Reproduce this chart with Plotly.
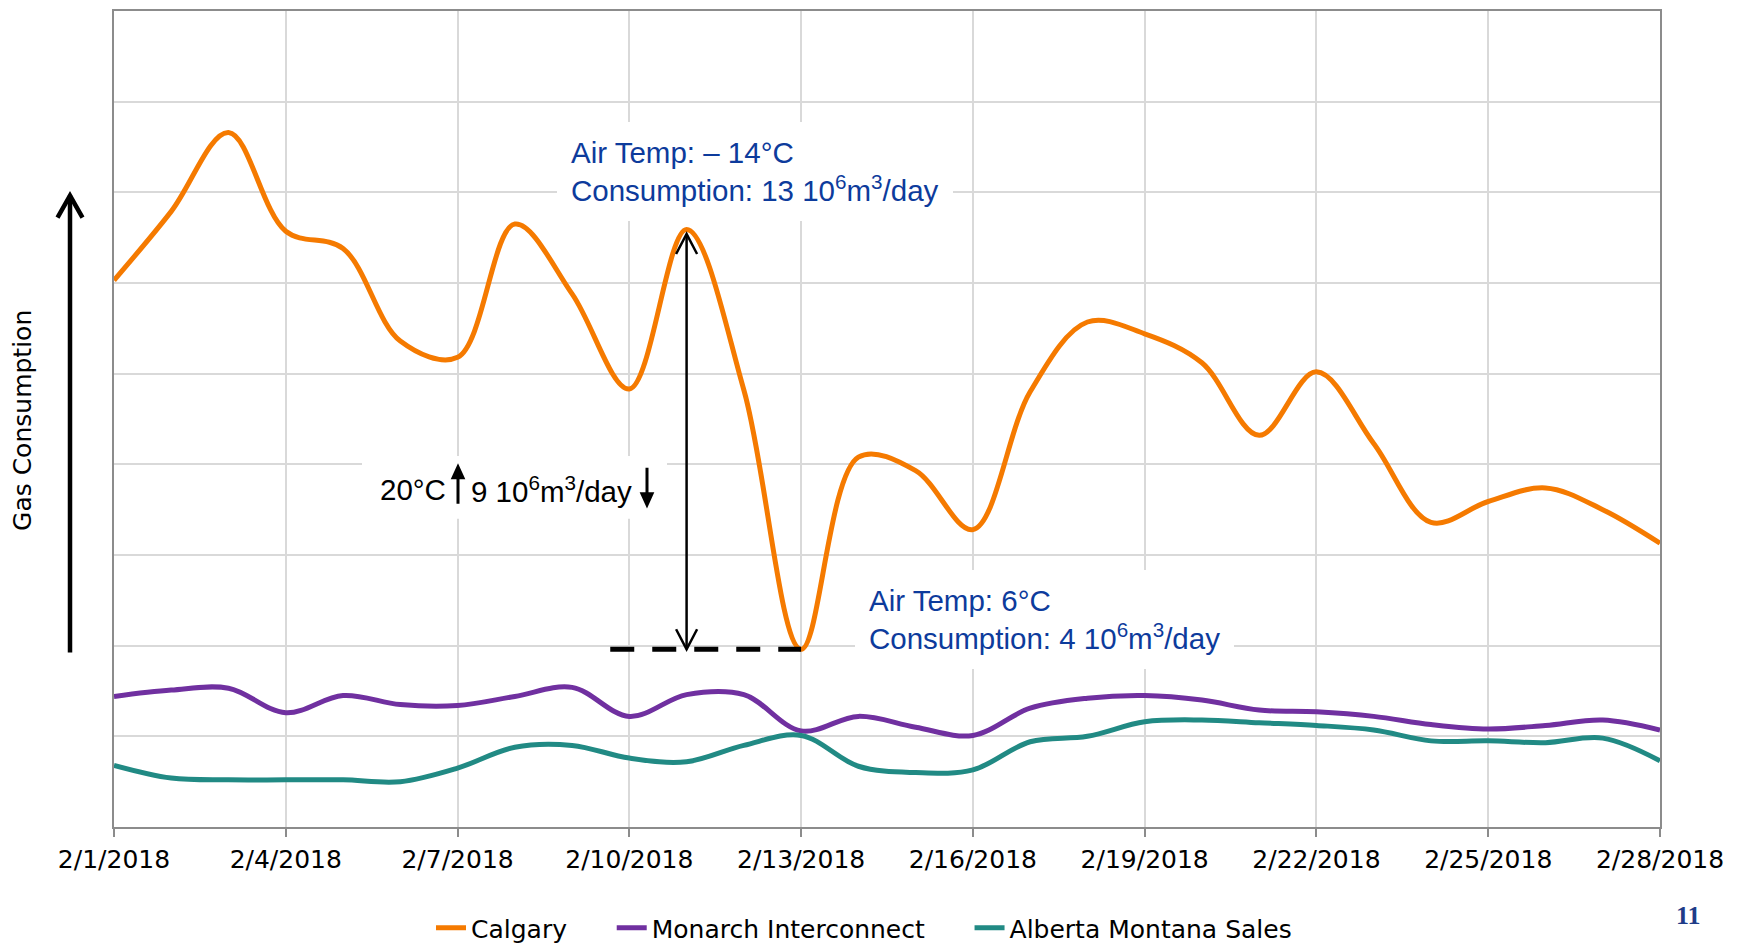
import plotly.graph_objects as go
import pandas as pd

# ---------------- data ----------------
dates = pd.date_range("2018-02-01", "2018-02-28", freq="D")
calgary = [6.03, 6.79, 7.66, 6.57, 6.38, 5.36, 5.18, 6.65, 5.88, 4.83,
           6.59, 4.82, 1.96, 4.08, 3.93, 3.28, 4.80, 5.57, 5.44, 5.12,
           4.32, 5.02, 4.23, 3.36, 3.59, 3.74, 3.50, 3.13]
monarch = [1.44, 1.51, 1.53, 1.26, 1.45, 1.35, 1.34, 1.44, 1.54, 1.22,
           1.46, 1.46, 1.06, 1.22, 1.10, 1.01, 1.31, 1.42, 1.45, 1.40,
           1.29, 1.27, 1.22, 1.13, 1.08, 1.12, 1.18, 1.07]
alberta = [0.68, 0.54, 0.52, 0.52, 0.52, 0.50, 0.65, 0.88, 0.90, 0.76,
           0.72, 0.90, 1.01, 0.67, 0.60, 0.63, 0.94, 1.00, 1.16, 1.18,
           1.15, 1.12, 1.07, 0.95, 0.95, 0.93, 0.98, 0.73]
series_names = ["Calgary", "Monarch Interconnect", "Alberta Montana Sales"]
series_colors = ["#F57A00", "#7030A0", "#218A84"]

ann_high = "Air Temp: \u2013 14\u00b0C<br>Consumption: 13 10<sup>6</sup>m<sup>3</sup>/day"
ann_low = "Air Temp: 6\u00b0C<br>Consumption: 4 10<sup>6</sup>m<sup>3</sup>/day"
ann_diff_temp = "20\u00b0C"
ann_diff_cons = "9 10<sup>6</sup>m<sup>3</sup>/day"
y_title = "Gas Consumption"
page_no = "11"

# ---------------- layout helpers ----------------
W, H = 1741, 943
L, R, T, B = 114, 1660, 9, 827


def px(xp):
    return (xp - L) / (R - L)


def py(yp):
    return (B - yp) / (B - T)


fig = go.Figure()
nbsp = "\u00a0" * 5
for k, (name, vals, col) in enumerate(zip(series_names, [calgary, monarch, alberta], series_colors)):
    label = name + (nbsp if k < len(series_names) - 1 else "")
    fig.add_trace(go.Scatter(x=dates, y=vals, name=label, mode="lines",
                             line=dict(color=col, width=5, shape="spline", smoothing=1.0)))

# peak / trough references from data
i_min = calgary.index(min(calgary))
i_peak = 10
d_min = dates[i_min]
d_peak = dates[i_peak]
y_min = calgary[i_min]
y_peak = calgary[i_peak]

shapes = []
# white box behind the difference label
shapes.append(dict(type="rect", xref="paper", yref="paper", x0=px(362), x1=px(667),
                   y0=py(518), y1=py(455), fillcolor="white", line=dict(width=0), layer="above"))
# dashed baseline
shapes.append(dict(type="line", xref="x", yref="y",
                   x0=d_min - pd.Timedelta(hours=80), x1=d_min, y0=y_min, y1=y_min,
                   line=dict(color="black", width=5, dash="24px,18px"), layer="above"))
# vertical double arrow
shapes.append(dict(type="line", xref="x", yref="y", x0=d_peak, x1=d_peak,
                   y0=y_min, y1=y_peak - 0.05, line=dict(color="black", width=2.5)))
shapes.append(dict(type="path", xref="x", yref="y", xsizemode="pixel", ysizemode="pixel",
                   xanchor=d_peak, yanchor=y_peak - 0.05,
                   path="M -10.5,-20 L 0,0 L 10.5,-20", line=dict(color="black", width=2.5)))
shapes.append(dict(type="path", xref="x", yref="y", xsizemode="pixel", ysizemode="pixel",
                   xanchor=d_peak, yanchor=y_min,
                   path="M -10.5,20 L 0,0 L 10.5,20", line=dict(color="black", width=2.5)))
# big left arrow
ax_x = px(70)
shapes.append(dict(type="line", xref="paper", yref="paper", x0=ax_x, x1=ax_x,
                   y0=py(652), y1=py(194), line=dict(color="black", width=4.5)))
shapes.append(dict(type="path", xref="paper", yref="paper", xsizemode="pixel", ysizemode="pixel",
                   xanchor=ax_x, yanchor=py(194),
                   path="M -12.5,-22 L 0,0 L 12.5,-22", line=dict(color="black", width=4.5)))
# small up / down arrows inside the difference label
shapes.append(dict(type="path", xref="paper", yref="paper", xsizemode="pixel", ysizemode="pixel",
                   xanchor=px(458), yanchor=py(485), layer="above",
                   path="M 0,-18 L 0,9 M -5,8 L 0,19 L 5,8 Z", fillcolor="black",
                   line=dict(color="black", width=3)))
shapes.append(dict(type="path", xref="paper", yref="paper", xsizemode="pixel", ysizemode="pixel",
                   xanchor=px(647), yanchor=py(485), layer="above",
                   path="M 0,18 L 0,-9 M -5,-8 L 0,-19 L 5,-8 Z", fillcolor="black",
                   line=dict(color="black", width=3)))

blue = "#0D3B9C"
afont = "Liberation Sans, Arial, sans-serif"
annotations = [
    dict(text=ann_high, xref="paper", yref="paper", x=px(571 - 14), y=py(170),
         xanchor="left", yanchor="middle", align="left", showarrow=False,
         bgcolor="white", borderpad=14, borderwidth=0,
         font=dict(family=afont, size=29.5, color=blue)),
    dict(text=ann_low, xref="paper", yref="paper", x=px(869 - 14), y=py(619),
         xanchor="left", yanchor="middle", align="left", showarrow=False,
         bgcolor="white", borderpad=14, borderwidth=0,
         font=dict(family=afont, size=29.5, color=blue)),
    dict(text=ann_diff_temp, xref="paper", yref="paper", x=px(380), y=py(489),
         xanchor="left", yanchor="middle", align="left", showarrow=False,
         borderpad=0, borderwidth=0,
         font=dict(family=afont, size=29.5, color="black")),
    dict(text=ann_diff_cons, xref="paper", yref="paper", x=px(471), y=py(489),
         xanchor="left", yanchor="middle", align="left", showarrow=False,
         borderpad=0, borderwidth=0,
         font=dict(family=afont, size=29.5, color="black")),
    dict(text=y_title, xref="paper", yref="paper", x=px(23), y=py(420),
         xanchor="center", yanchor="middle", textangle=-90, showarrow=False,
         font=dict(family="DejaVu Sans, Verdana, sans-serif", size=25, color="black")),
    dict(text="<b>" + page_no + "</b>", xref="paper", yref="paper", x=px(1688), y=py(916),
         xanchor="center", yanchor="middle", showarrow=False,
         font=dict(family="Liberation Serif, Times New Roman, serif", size=26, color="#1F3C88")),
]

fig.update_layout(
    width=W, height=H,
    margin=dict(l=L, r=W - R, t=T, b=H - B),
    paper_bgcolor="white", plot_bgcolor="white",
    font=dict(family="DejaVu Sans, Verdana, sans-serif", size=25, color="black"),
    showlegend=True,
    legend=dict(orientation="h", xref="container", yref="container",
                x=864 / W, y=(H - 928) / H, xanchor="center", yanchor="middle",
                font=dict(size=25, color="black"), bgcolor="rgba(0,0,0,0)"),
    shapes=shapes,
    annotations=annotations,
)
fig.update_xaxes(
    range=[dates[0], dates[-1]], type="date",
    tick0=dates[0], dtick=3 * 86400000, tickformat="%-m/%-d/%Y",
    showgrid=True, gridcolor="#D9D9D9", gridwidth=1.5,
    showline=True, linecolor="#8C8C8C", linewidth=2, mirror=True,
    ticks="outside", ticklen=8, tickcolor="#8C8C8C", tickwidth=1.5,
    ticklabelstandoff=1, zeroline=False,
)
fig.update_yaxes(
    range=[0, 9], dtick=1, showticklabels=False,
    showgrid=True, gridcolor="#D9D9D9", gridwidth=1.5,
    showline=True, linecolor="#8C8C8C", linewidth=2, mirror=True,
    ticks="", zeroline=False,
)

fig.write_html("out.html", config={"displayModeBar": False},
               post_script="document.body.style.margin='0px';document.body.style.overflow='hidden';")
